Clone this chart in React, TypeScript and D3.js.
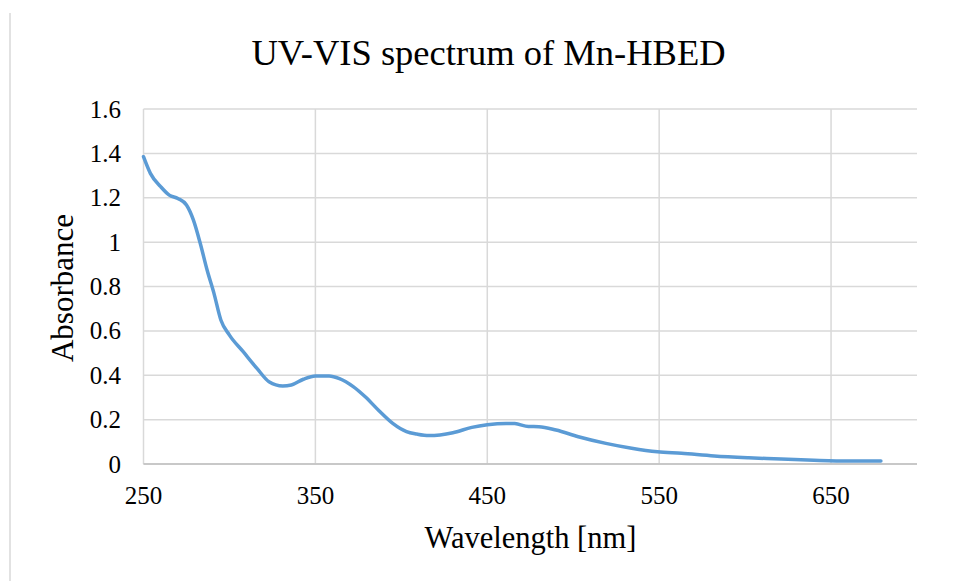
import React from "react";
import * as d3 from "d3";

const wavelengths = [250, 254, 260, 265, 270, 275, 279, 283, 287, 291, 295, 300, 308, 316, 323, 331, 336, 343, 350, 358, 364, 372, 379, 387, 395, 403, 409, 416, 430, 441, 450, 461, 466, 474, 480, 490, 503, 519, 534, 549, 563, 582, 602, 621, 640, 660, 679];
const absorbance = [1.385, 1.31, 1.25, 1.212, 1.197, 1.167, 1.1, 0.995, 0.874, 0.769, 0.649, 0.581, 0.506, 0.431, 0.371, 0.352, 0.356, 0.382, 0.397, 0.397, 0.385, 0.349, 0.303, 0.24, 0.183, 0.146, 0.135, 0.128, 0.141, 0.165, 0.177, 0.183, 0.182, 0.169, 0.168, 0.153, 0.123, 0.093, 0.071, 0.055, 0.048, 0.036, 0.028, 0.0225, 0.0167, 0.013, 0.013];
const xTicks = [250, 350, 450, 550, 650];
const yTicks = [0, 0.2, 0.4, 0.6, 0.8, 1, 1.2, 1.4, 1.6];

const title = "UV-VIS spectrum of Mn-HBED";
const xTitle = "Wavelength [nm]";
const yTitle = "Absorbance";

export default function App() {
  const W = 954, H = 581;
  const left = 143.5, right = 917, top = 109, bottom = 464;
  const x = d3.scaleLinear().domain([250, 700]).range([left, right]);
  const y = d3.scaleLinear().domain([0, 1.6]).range([bottom, top]);
  const pts: [number, number][] = wavelengths.map((w, i) => [w, absorbance[i]]);
  const line = d3
    .line<[number, number]>()
    .x((d) => x(d[0]))
    .y((d) => y(d[1]))
    .curve(d3.curveMonotoneX);
  const font = "Liberation Serif";
  const grid = "#d9d9d9";
  const fmt = d3.format("~g");
  return (
    <div style={{ position: "fixed", left: 0, top: 0 }}>
      <svg width={W} height={H} style={{ display: "block", background: "#fff" }}>
        <line x1={10} x2={10} y1={13} y2={H} stroke={grid} strokeWidth={1.5} />
        {yTicks.map((t) => (
          <line key={"gy" + t} x1={left} x2={right} y1={y(t)} y2={y(t)} stroke={grid} strokeWidth={1.5} />
        ))}
        {xTicks.map((t) => (
          <line key={"gx" + t} x1={x(t)} x2={x(t)} y1={top} y2={bottom} stroke={grid} strokeWidth={1.5} />
        ))}
        <line x1={left} x2={right} y1={bottom} y2={bottom} stroke="#bfbfbf" strokeWidth={1.5} />
        {yTicks.map((t) => (
          <text key={"ty" + t} x={121} y={y(t)} dy="0.34em" textAnchor="end" fontFamily={font} fontSize={25} fill="#000">
            {fmt(t)}
          </text>
        ))}
        {xTicks.map((t) => (
          <text key={"tx" + t} x={x(t)} y={504} textAnchor="middle" fontFamily={font} fontSize={25} fill="#000">
            {t}
          </text>
        ))}
        <path d={line(pts) || ""} fill="none" stroke="#5b9bd5" strokeWidth={3.5} strokeLinejoin="round" strokeLinecap="round" />
        <text x={488.5} y={65} textAnchor="middle" fontFamily={font} fontSize={36.5} fill="#000">
          {title}
        </text>
        <text x={530.5} y={548} textAnchor="middle" fontFamily={font} fontSize={30.5} fill="#000">
          {xTitle}
        </text>
        <text transform={`translate(73,288) rotate(-90)`} textAnchor="middle" fontFamily={font} fontSize={31} fill="#000">
          {yTitle}
        </text>
      </svg>
    </div>
  );
}
